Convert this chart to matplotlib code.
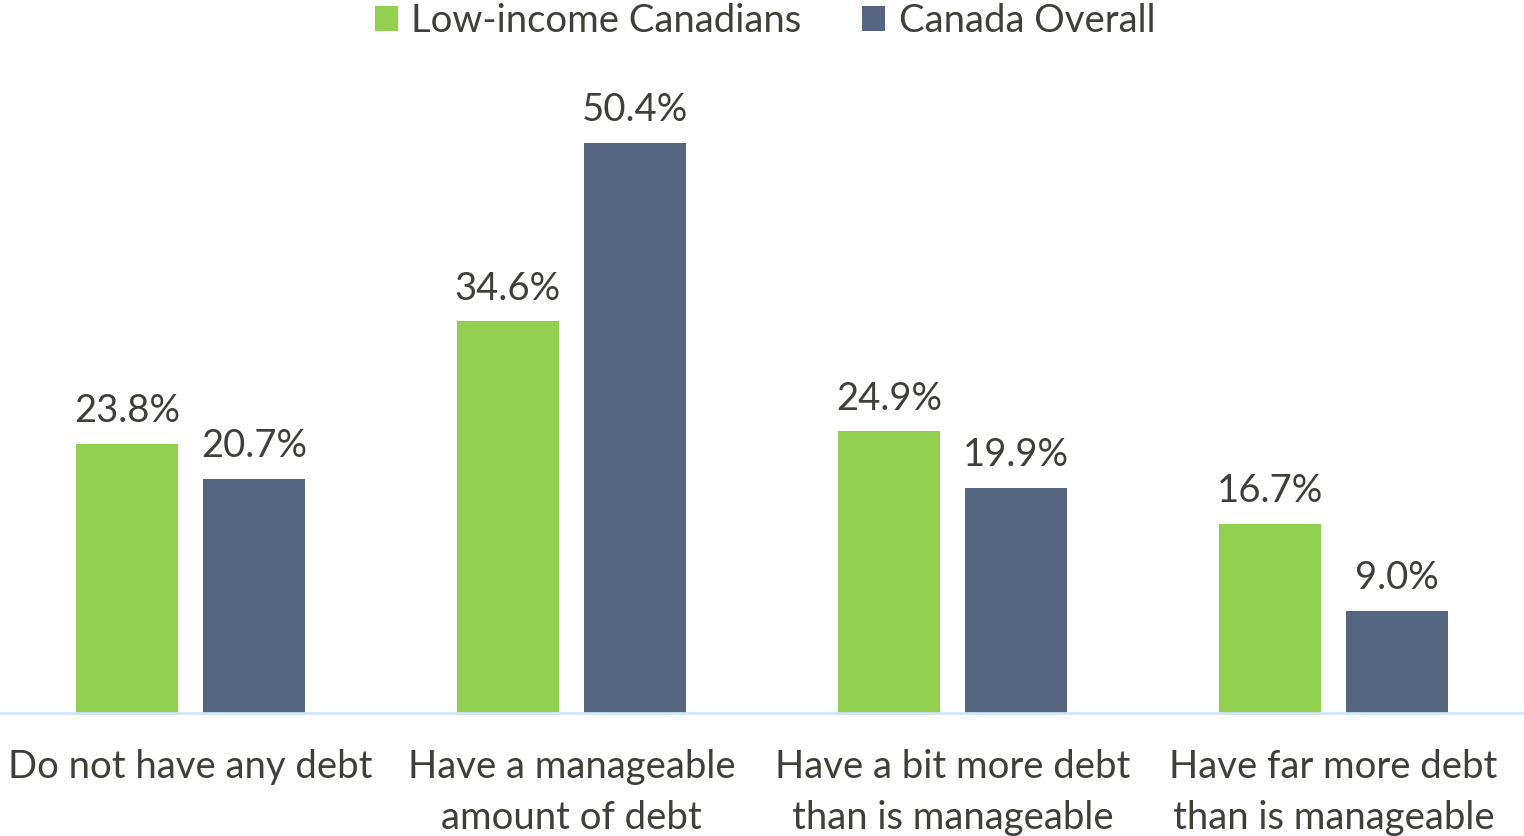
import matplotlib.pyplot as plt
import numpy as np

categories = ["Do not have any debt", "Have a manageable\namount of debt",
              "Have a bit more debt\nthan is manageable", "Have far more debt\nthan is manageable"]
low_income = [23.8, 34.6, 24.9, 16.7]
canada = [20.7, 50.4, 19.9, 9.0]
series_names = ["Low-income Canadians", "Canada Overall"]

green = "#92d050"
navy = "#556580"
txt = "#3f3f3a"

plt.rcParams['font.family'] = ['Lato', 'DejaVu Sans']

fig = plt.figure(figsize=(15.24, 8.36), dpi=100)
ax = fig.add_axes([0, (836 - 713) / 836, 1, (713 - 34) / 836])

x = np.arange(len(categories))
w = 0.268
off = 0.167
b1 = ax.bar(x - off, low_income, w, color=green, label=series_names[0])
b2 = ax.bar(x + off, canada, w, color=navy, label=series_names[1])

for bars, vals in ((b1, low_income), (b2, canada)):
    for b, v in zip(bars, vals):
        ax.text(b.get_x() + b.get_width() / 2, v + 1.3, f"{v:.1f}%",
                ha="center", va="bottom", fontsize=27.5, color=txt)

ax.set_xlim(-0.5, 3.5)
ax.set_ylim(0, 60)
ax.set_yticks([])
ax.set_xticks(x)
ax.set_xticklabels(categories, fontsize=27.5, color=txt, linespacing=1.5)
ax.tick_params(axis="x", length=0, pad=26)
for s in ["top", "right", "left"]:
    ax.spines[s].set_visible(False)
ax.spines["bottom"].set_color("#cfe6f7")
ax.spines["bottom"].set_linewidth(2)

leg = fig.legend(handles=[b1, b2], loc="center", bbox_to_anchor=(0.502, 0.975),
                 ncol=2, frameon=False, fontsize=27.5, handlelength=0.6, handleheight=0.6,
                 handletextpad=0.35, columnspacing=1.6, labelcolor=txt)

fig.savefig("out.png", dpi=100)
